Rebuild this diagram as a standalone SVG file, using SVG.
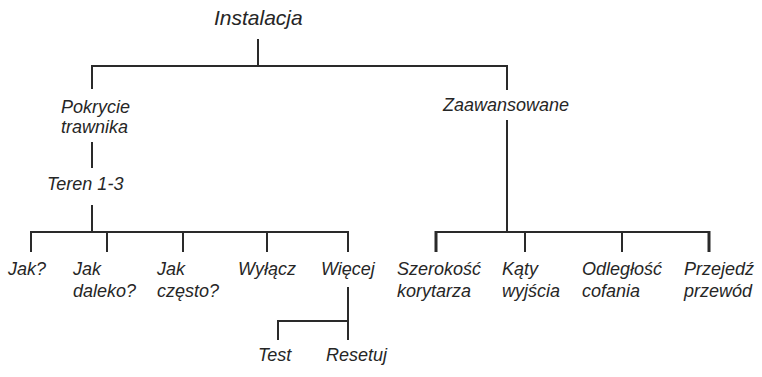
<svg xmlns="http://www.w3.org/2000/svg" width="762" height="377" viewBox="0 0 762 377">
<style>
text{font-family:"Liberation Sans",Arial,sans-serif;font-style:italic;font-size:18px;fill:#262626}
.t{font-size:21px}
.c path{stroke:#2a2a2a;stroke-width:2;fill:none}
.c .k{stroke-width:3}
</style>
<rect width="762" height="377" fill="#fff"/>
<g class="c" id="connectors">
<path d="M258 39V66M92 89V66H507V90"/>
<path d="M92 142V168"/>
<path d="M92 205V232M31 252V232H348V252M107 232V252M183 232V252M267 232V252"/>
<path d="M348 287V340M278 340V321H348"/>
<path d="M507 120V232M436 232H709M525 232V252M622 232V252"/>
<path class="k" d="M436 231V252M709 231V252"/>
</g>
<g id="n-instalacja"><text class="t" x="214" y="25">Instalacja</text></g>
<g id="n-pokrycie"><text x="61" y="113">Pokrycie</text><text x="61" y="133">trawnika</text></g>
<g id="n-teren"><text x="47" y="190">Teren 1-3</text></g>
<g id="n-zaawansowane"><text x="443" y="111">Zaawansowane</text></g>
<g id="n-jak"><text x="8" y="275">Jak?</text></g>
<g id="n-jakdaleko"><text x="73" y="275">Jak</text><text x="73" y="297">daleko?</text></g>
<g id="n-jakczesto"><text x="157" y="275">Jak</text><text x="157" y="297">często?</text></g>
<g id="n-wylacz"><text x="238" y="275">Wyłącz</text></g>
<g id="n-wiecej"><text x="321" y="275">Więcej</text></g>
<g id="n-test"><text x="258" y="361">Test</text></g>
<g id="n-resetuj"><text x="326" y="361">Resetuj</text></g>
<g id="n-szerokosc"><text x="397" y="275">Szerokość</text><text x="397" y="297">korytarza</text></g>
<g id="n-katy"><text x="502" y="275">Kąty</text><text x="502" y="297">wyjścia</text></g>
<g id="n-odleglosc"><text x="582" y="275">Odległość</text><text x="582" y="297">cofania</text></g>
<g id="n-przejedz"><text x="684" y="275">Przejedź</text><text x="684" y="297">przewód</text></g>
</svg>
